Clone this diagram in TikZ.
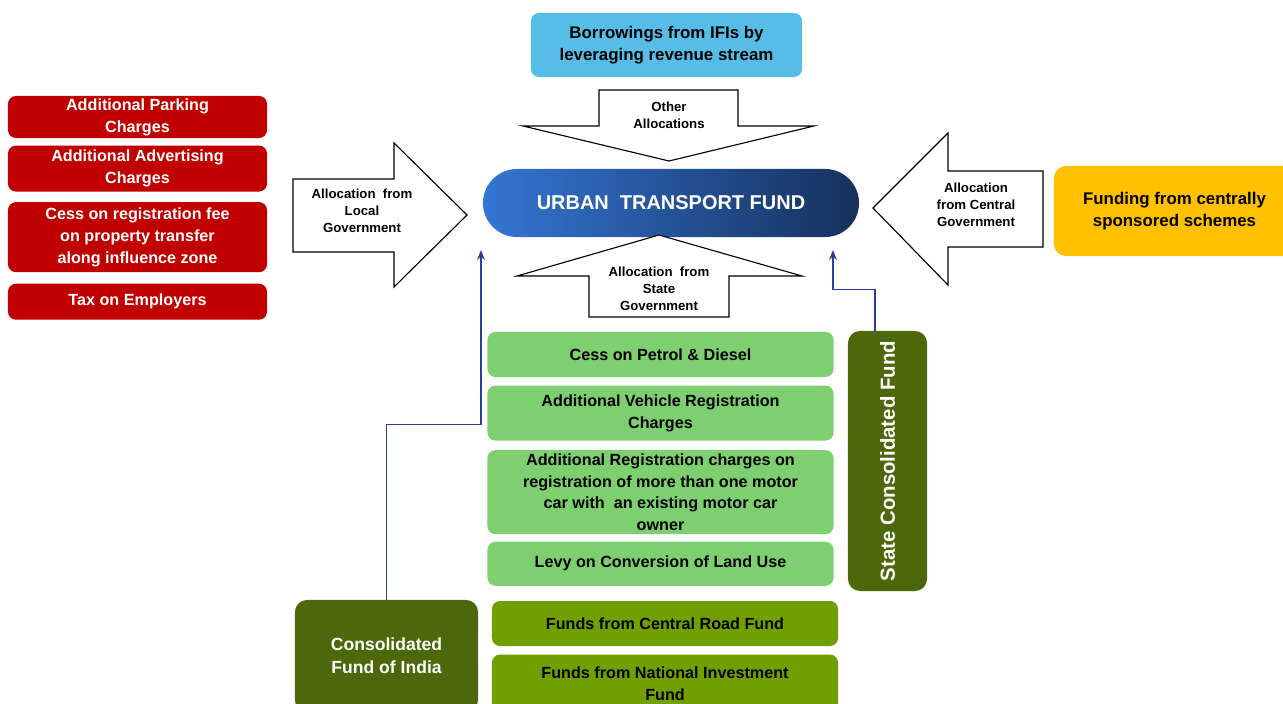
\documentclass[tikz,border=0pt]{standalone}
\usepackage{fontspec}
\setmainfont{Liberation Sans}
\usetikzlibrary{arrows,arrows.meta,shapes,positioning}
\definecolor{utred}{RGB}{192,0,0}
\definecolor{utsky}{RGB}{86,190,230}
\definecolor{utyellow}{RGB}{255,192,0}
\definecolor{utlime}{RGB}{126,207,111}
\definecolor{utolive}{RGB}{112,160,0}
\definecolor{utforest}{RGB}{76,104,10}
\definecolor{utnavy}{RGB}{40,64,150}
\definecolor{utblueL}{RGB}{52,118,212}
\definecolor{utblueR}{RGB}{22,48,92}
\tikzstyle{feed} = [line width=1.1pt,->,>={Stealth[length=7pt,width=5.5pt]},color=utnavy]
\tikzstyle{redbox} = [rectangle, rounded corners=0.2cm, minimum width=6.475cm, inner sep=0pt, align=center, fill=utred, text=white, font=\bfseries\fontsize{11.5}{15.5}\selectfont]
\tikzstyle{limebox} = [rectangle, rounded corners=0.2cm, minimum width=8.65cm, inner sep=0pt, align=center, fill=utlime, font=\bfseries\fontsize{11.5}{15.5}\selectfont]
\tikzstyle{olivebox} = [limebox, fill=utolive]
\tikzstyle{forestbox} = [rectangle, rounded corners=0.3cm, inner sep=0pt, align=center, fill=utforest, text=white, font=\bfseries\fontsize{12.5}{16.5}\selectfont]
\tikzstyle{blockarrow} = [draw=black, fill=white, line width=0.8pt, line join=miter]
\tikzstyle{arrowtext} = [align=center, inner sep=0pt, font=\bfseries\fontsize{9.4}{12.2}\selectfont]

\begin{document}
\begin{tikzpicture}[x=0.025cm, y=-0.025cm]
\useasboundingbox (0,0) rectangle (1283,704);

% Local sources
\node (park) [redbox, minimum height=1.05cm] at (137.5,117) {Additional Parking\\Charges};
\node (advt) [redbox, minimum height=1.15cm, below=0.175cm of park] {Additional Advertising\\Charges};
\node (cess) [redbox, minimum height=1.75cm, below=0.25cm of advt] {Cess on registration fee\\on property transfer\\along influence zone};
\node (empl) [redbox, minimum height=0.9cm, below=0.275cm of cess] {Tax on Employers};

% Fund, borrowings and schemes
\node (fund) [rectangle, rounded corners=0.85cm, minimum width=9.4cm, minimum height=1.7cm, left color=utblueL, right color=utblueR, text=white, font=\bfseries\fontsize{14.2}{16}\selectfont] at (671,203) {URBAN\ \ TRANSPORT FUND};
\node (ifis) [rectangle, rounded corners=0.2cm, minimum width=6.775cm, minimum height=1.6cm, align=center, fill=utsky, font=\bfseries\fontsize{12}{16}\selectfont] at (666.5,45) {Borrowings from IFIs by\\leveraging revenue stream};
\node (cssf) [rectangle, rounded corners=0.3cm, minimum width=6.025cm, minimum height=2.25cm, align=center, fill=utyellow, font=\bfseries\fontsize{12}{16}\selectfont] at (1174.5,211) {Funding from centrally\\sponsored schemes};

% Allocation arrows
\draw[blockarrow] (293,179) -- (394,179) -- (394,143) -- (467,215) -- (394,287) -- (394,252) -- (293,252) -- cycle;
\node (local) [arrowtext] at (362,211) {Allocation\ \ from\\Local\\Government};
\draw[blockarrow] (599,90) -- (738,90) -- (738,126) -- (814,126) -- (669,161) -- (523,126) -- (599,126) -- cycle;
\node (other) [arrowtext] at (669,115) {Other\\Allocations};
\draw[blockarrow] (659,235) -- (802,276) -- (729,276) -- (729,317) -- (589,317) -- (589,276) -- (517,276) -- cycle;
\node (state) [arrowtext] at (659,289) {Allocation\ \ from\\State\\Government};
\draw[blockarrow] (873,208) -- (948,133) -- (948,171) -- (1043,171) -- (1043,247) -- (948,247) -- (948,285) -- cycle;
\node (central) [arrowtext] at (976,205) {Allocation\\from Central\\Government};

% State sources
\node (petrol) [limebox, minimum height=1.125cm] at (660.5,354.5) {Cess on Petrol \& Diesel};
\node (vehicle) [limebox, minimum height=1.375cm, below=0.2cm of petrol] {Additional Vehicle Registration\\Charges};
\node (motor) [limebox, minimum height=2.1cm, below=0.225cm of vehicle] {Additional Registration charges on\\registration of more than one motor\\car with\ \ an existing motor car\\owner};
\node (levy) [limebox, minimum height=1.1cm, below=0.175cm of motor] {Levy on Conversion of Land Use};
\node (scf) [forestbox, minimum width=1.975cm, minimum height=6.5cm, font=\bfseries\fontsize{14.5}{16}\selectfont] at (887.5,461) {\rotatebox{90}{State Consolidated Fund}};

% Central sources
\node (crf) [olivebox, minimum height=1.125cm] at (665,623.5) {Funds from Central Road Fund};
\node (nif) [olivebox, minimum height=1.45cm, below=0.2cm of crf] {Funds from National Investment\\Fund};
\node (cfi) [forestbox, minimum width=4.575cm, minimum height=2.8cm] at (386.5,656) {Consolidated\\Fund of India};

% Connections
\coordinate (lgin) at (481,250);
\coordinate (sgin) at (833,250);
\draw[feed] (cfi.north) -- ++(0,-175) -| (lgin);
\draw[feed] ([xshift=-0.31cm]scf.north) -- ++(0,-41) -| (sgin);
\end{tikzpicture}
\end{document}
